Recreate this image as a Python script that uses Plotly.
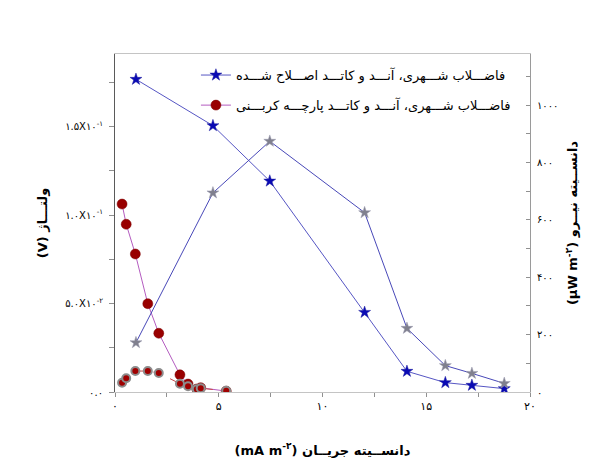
import plotly.graph_objects as go

# Modified anode & cathode: current density (mA m^-2), voltage (V), power density (µW m^-2)
i_mod = [1.01, 4.72, 7.46, 12.03, 14.07, 15.92, 17.20, 18.76]
v_mod = [0.1767, 0.1505, 0.1192, 0.0450, 0.0117, 0.0053, 0.0038, 0.0019]
p_mod = [172, 694, 874, 625, 222, 92, 65, 30]

# Carbon-cloth anode & cathode
i_cc = [0.34, 0.54, 0.98, 1.58, 2.11, 3.13, 3.52, 3.94, 4.13, 5.36]
v_cc = [0.1062, 0.0948, 0.0780, 0.0499, 0.0332, 0.0097, 0.0045, 0.0017, 0.0024, 0.0005]
p_cc = [32, 48, 73, 73, 66, 29, 20, 10, 13, 4]

name_mod = "فاضـــلاب شـــهری، آنـــد و کاتـــد اصـــلاح شـــده"
name_cc = "فاضـــلاب شـــهری، آنـــد و کاتـــد پارچـــه کربـــنی"

x_ticks = [0, 5, 10, 15, 20]
x_ticktext = ["۰", "۵", "۱۰", "۱۵", "۲۰"]
v_ticks = [0, 0.05, 0.10, 0.15]
v_ticktext = ["۰.۰", "۵.۰X۱۰<sup>-۲</sup>", "۱.۰X۱۰<sup>-۱</sup>", "۱.۵X۱۰<sup>-۱</sup>"]
p_ticks = [0, 200, 400, 600, 800, 1000]
p_ticktext = ["۰", "۲۰۰", "۴۰۰", "۶۰۰", "۸۰۰", "۱۰۰۰"]

FONT = "DejaVu Sans"

fig = go.Figure()

# voltage curves (left axis)
fig.add_trace(go.Scatter(
    x=i_mod, y=v_mod, name=name_mod, mode="lines+markers",
    line=dict(color="#5656c4", width=1),
    marker=dict(symbol="star", size=9, color="#0a0ab4",
                line=dict(color="#2020a0", width=0.5)),
    legend="legend"))
fig.add_trace(go.Scatter(
    x=i_cc, y=v_cc, name=name_cc, mode="lines+markers",
    line=dict(color="#b45cc0", width=1),
    marker=dict(symbol="circle", size=10, color="#990000",
                line=dict(color="#7a0000", width=0.5)),
    legend="legend2"))

# power density curves (right axis)
fig.add_trace(go.Scatter(
    x=i_mod, y=p_mod, yaxis="y2", mode="lines+markers", showlegend=False,
    line=dict(color="#4848b8", width=1),
    marker=dict(symbol="star", size=9, color="#80808e",
                line=dict(color="#9a9ab0", width=0.5))))
fig.add_trace(go.Scatter(
    x=i_cc, y=p_cc, yaxis="y2", mode="lines+markers", showlegend=False,
    line=dict(color="#c84848", width=1, dash="dash"),
    marker=dict(symbol="circle", size=8, color="#a00000",
                line=dict(color="#8c8c8c", width=2))))

fig.update_layout(
    width=600, height=465,
    margin=dict(l=115, r=70, t=54, b=73, autoexpand=False),
    paper_bgcolor="white", plot_bgcolor="white",
    font=dict(family=FONT, color="#000000"),
    xaxis=dict(
        range=[0, 20], tickmode="array", tickvals=x_ticks, ticktext=x_ticktext,
        showline=True, linecolor="#c4c4c4", linewidth=1, mirror=True,
        ticks="outside", ticklen=4, tickcolor="#909090", showgrid=False, zeroline=False,
        tickfont=dict(size=11, family=FONT), automargin=False,
        minor=dict(tickmode="linear", tick0=0, dtick=2.5, ticks="outside",
                   ticklen=4, tickcolor="#909090"),
        title=dict(text="(mA m<sup>-۲</sup>) دانســیته جریــان",
                   font=dict(size=13, family=FONT, weight="bold"), standoff=33),
    ),
    yaxis=dict(
        range=[0, 0.191], tickmode="array", tickvals=v_ticks, ticktext=v_ticktext,
        showline=True, linecolor="#5a5a5a", linewidth=1,
        ticks="outside", ticklen=5, tickcolor="#909090", showgrid=False, zeroline=False,
        tickfont=dict(size=10, family=FONT), ticklabelstandoff=4, automargin=False,
        minor=dict(tickmode="linear", tick0=0, dtick=0.025, ticks="outside",
                   ticklen=5, tickcolor="#909090"),
        title=dict(text="(V) ولتـــاژ",
                   font=dict(size=13, family=FONT, weight="bold"), standoff=14),
    ),
    yaxis2=dict(
        range=[0, 1178], overlaying="y", side="right",
        tickmode="array", tickvals=p_ticks, ticktext=p_ticktext,
        showline=True, linecolor="#9a9a9a", linewidth=1,
        ticks="inside", ticklen=4, tickcolor="#909090", showgrid=False, zeroline=False,
        tickfont=dict(size=10, family=FONT), ticklabelstandoff=4, automargin=False,
        minor=dict(tickmode="linear", tick0=0, dtick=100, ticks="inside",
                   ticklen=4, tickcolor="#909090"),
        title=dict(text="(µW m<sup>-۲</sup>) دانســیته نیــرو",
                   font=dict(size=13, family=FONT, weight="bold"), standoff=10),
    ),
    legend=dict(x=0.195, y=0.982, xanchor="left", yanchor="top",
                bgcolor="rgba(0,0,0,0)", font=dict(size=13, family=FONT),
                itemwidth=30),
    legend2=dict(x=0.195, y=0.893, xanchor="left", yanchor="top",
                 bgcolor="rgba(0,0,0,0)", font=dict(size=13, family=FONT),
                 itemwidth=30),
)

fig.write_html("out.html")
